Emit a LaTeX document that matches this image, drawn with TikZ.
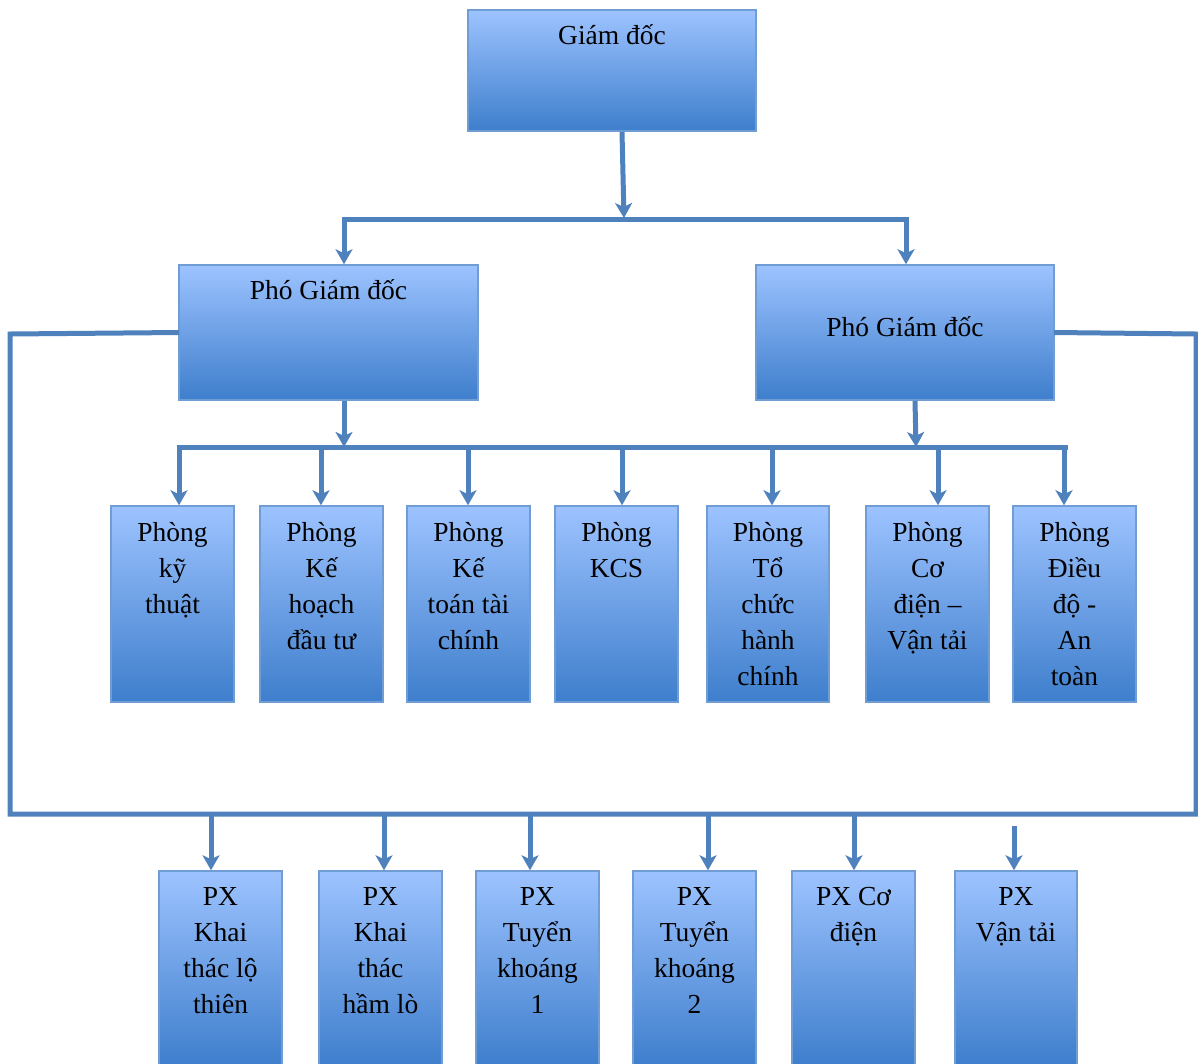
\documentclass[tikz,border=0pt]{standalone}
\usepackage{fontspec}
\setmainfont{Liberation Serif}
\usetikzlibrary{arrows.meta}
\definecolor{lnc}{RGB}{79,129,189}
\definecolor{topc}{RGB}{157,195,255}
\definecolor{midc}{RGB}{120,167,234}
\definecolor{botc}{RGB}{62,126,204}
\definecolor{brd}{RGB}{112,157,212}
\newcommand{\fstrut}{\rule[-10pt]{0pt}{30pt}}
\tikzset{
  box/.style={draw=brd, line width=1.5pt, top color=topc, middle color=midc, bottom color=botc, inner sep=0pt},
  pbox/.style={box, minimum width=123pt, minimum height=196pt},
  xbox/.style={box, minimum width=123pt, minimum height=195pt},
  txt/.style={anchor=north, inner sep=0pt, align=center, font=\fontsize{27.5}{36}\selectfont},
  ln/.style={draw=lnc, line width=5pt},
  bus/.style={ln, line cap=rect},
  arr/.style={ln, -{Stealth[length=15pt,width=17pt,inset=4pt]}}
}
\begin{document}
\begin{tikzpicture}[x=1pt,y=-1pt]
\useasboundingbox (0,0) rectangle (1198,1063);
% top level
\node[box, minimum width=288pt, minimum height=121pt] (gd) at (612,70.5) {};
\node[txt] (tgd) at ([yshift=-15.5pt]gd.north) {\fstrut Giám đốc};
\node[box, minimum width=299pt, minimum height=135pt] (pgl) at (328.5,332.5) {};
\node[txt] (tpgl) at ([yshift=-15.5pt]pgl.north) {\fstrut Phó Giám đốc};
\node[box, minimum width=298pt, minimum height=135pt] (pgr) at (905,332.5) {};
\node[txt] (tpgr) at ([yshift=-52pt]pgr.north) {\fstrut Phó Giám đốc};
% Phong boxes
\node[pbox] (p1) at (172.5,604) {};
\node[pbox] (p2) at (321.5,604) {};
\node[pbox] (p3) at (468.5,604) {};
\node[pbox] (p4) at (616.5,604) {};
\node[pbox, minimum width=122pt] (p5) at (768,604) {};
\node[pbox] (p6) at (927.5,604) {};
\node[pbox] (p7) at (1074.5,604) {};
\node[txt] (tp1) at ([yshift=-16pt]p1.north) {\fstrut Phòng\\kỹ\\thuật};
\node[txt] (tp2) at ([yshift=-16pt]p2.north) {\fstrut Phòng\\Kế\\hoạch\\đầu tư};
\node[txt] (tp3) at ([yshift=-16pt]p3.north) {\fstrut Phòng\\Kế\\toán tài\\chính};
\node[txt] (tp4) at ([yshift=-16pt]p4.north) {\fstrut Phòng\\KCS};
\node[txt] (tp5) at ([yshift=-16pt]p5.north) {\fstrut Phòng\\Tổ\\chức\\hành\\chính};
\node[txt] (tp6) at ([yshift=-16pt]p6.north) {\fstrut Phòng\\Cơ\\điện –\\Vận tải};
\node[txt] (tp7) at ([yshift=-16pt]p7.north) {\fstrut Phòng\\Điều\\độ -\\An\\toàn};
% PX boxes
\node[xbox] (x1) at (220.5,968.5) {};
\node[xbox] (x2) at (380.5,968.5) {};
\node[xbox] (x3) at (537.5,968.5) {};
\node[xbox] (x4) at (694.5,968.5) {};
\node[xbox] (x5) at (853.5,968.5) {};
\node[xbox, minimum width=122pt] (x6) at (1016,968.5) {};
\node[txt] (tx1) at ([yshift=-15.5pt]x1.north) {\fstrut PX\\Khai\\thác lộ\\thiên};
\node[txt] (tx2) at ([yshift=-15.5pt]x2.north) {\fstrut PX\\Khai\\thác\\hầm lò};
\node[txt] (tx3) at ([yshift=-15.5pt]x3.north) {\fstrut PX\\Tuyển\\khoáng\\1};
\node[txt] (tx4) at ([yshift=-15.5pt]x4.north) {\fstrut PX\\Tuyển\\khoáng\\2};
\node[txt] (tx5) at ([yshift=-15.5pt]x5.north) {\fstrut PX Cơ\\điện};
\node[txt] (tx6) at ([yshift=-15.5pt]x6.north) {\fstrut PX\\Vận tải};
% junction coordinates
\coordinate (j0) at (624,218);
\coordinate (b1L) at (344,219);
\coordinate (b1R) at (906,219);
\coordinate (b2L) at (179,447);
\coordinate (b2R) at (1065,447);
\coordinate (k1) at (344,447);
\coordinate (k2) at (916,447);
\coordinate (LTL) at (10,334);
\coordinate (LBL) at (10,814);
\coordinate (LBR) at (1196,814);
\coordinate (LTR) at (1196,334);
\coordinate (q1) at (179,447);
\coordinate (q2) at (321,447);
\coordinate (q3) at (468,447);
\coordinate (q4) at (622,447);
\coordinate (q5) at (772,447);
\coordinate (q6) at (938,447);
\coordinate (q7) at (1064,447);
\coordinate (r1) at (211,814);
\coordinate (r2) at (384,814);
\coordinate (r3) at (530,814);
\coordinate (r4) at (708,814);
\coordinate (r5) at (854,814);
\coordinate (r6) at (1014,826);
% connectors
\draw[arr] ([xshift=10pt]gd.south) -- (j0);
\draw[bus] (b1L) -- (b1R);
\draw[arr] (b1L) -- (b1L |- pgl.north);
\draw[arr] (b1R) -- (b1R |- pgr.north);
\draw[ln, line join=miter] ([xshift=0.8pt]pgl.west) -- (LTL) -- (LBL) -- (LBR) -- (LTR) -- ([xshift=-0.8pt]pgr.east);
\draw[arr] ([xshift=15.5pt]pgl.south) -- (k1);
\draw[arr] ([xshift=10pt]pgr.south) -- (k2);
\draw[bus] (b2L) -- (b2R);
\foreach \i in {1,...,7} { \draw[arr] (q\i) -- (q\i |- p\i.north); }
\foreach \i in {1,...,6} { \draw[arr] (r\i) -- (r\i |- x\i.north); }
\end{tikzpicture}
\end{document}
